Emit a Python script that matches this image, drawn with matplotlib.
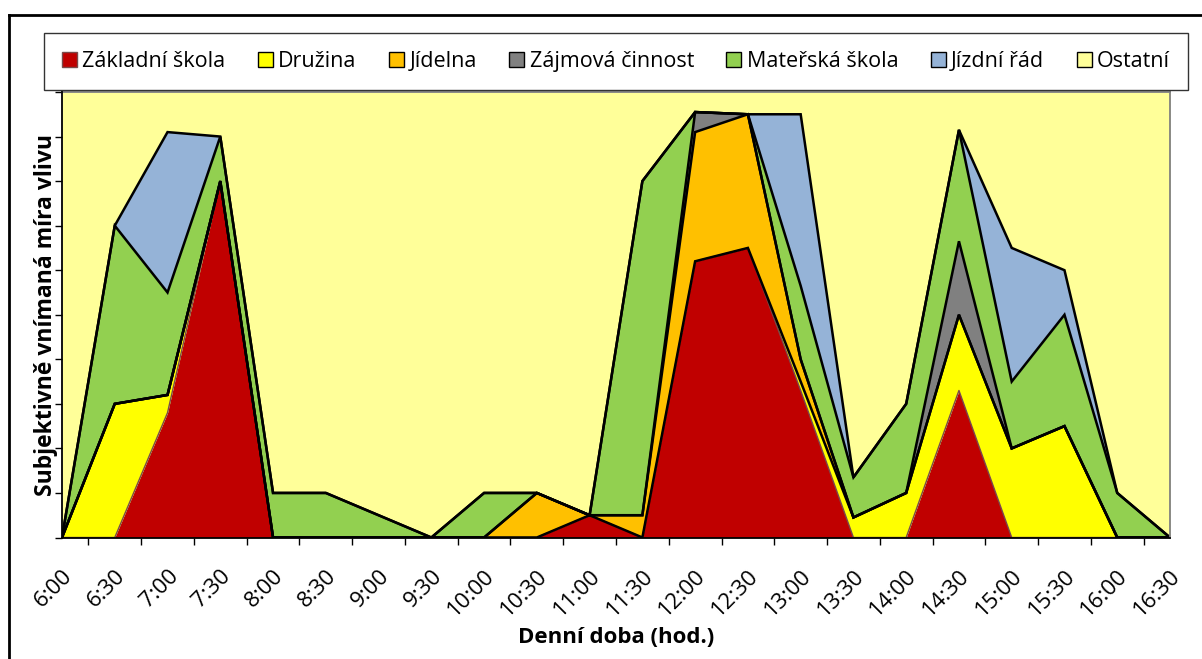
# stacked area chart: subjective influence over the day
import matplotlib.pyplot as plt
import numpy as np
from matplotlib.patches import Patch
from matplotlib.lines import Line2D

plt.rcParams['font.family'] = ['Open Sans', 'DejaVu Sans']

# categories on the x-axis
times = ['6:00', '6:30', '7:00', '7:30', '8:00', '8:30', '9:00', '9:30', '10:00', '10:30', '11:00',
         '11:30', '12:00', '12:30', '13:00', '13:30', '14:00', '14:30', '15:00', '15:30', '16:00', '16:30']

# series values, bottom to top
zakladni = [0, 0, 2.8, 8.0, 0, 0, 0, 0, 0, 0, 0.5, 0, 6.2, 6.5, 3.3, 0, 0, 3.3, 0, 0, 0, 0]
druzina = [0, 3.0, 0.4, 0, 0, 0, 0, 0, 0, 0, 0, 0, 0, 0, 0.2, 0.45, 1.0, 1.7, 2.0, 2.5, 0, 0]
jidelna = [0, 0, 0, 0, 0, 0, 0, 0, 0, 1.0, 0, 0.5, 2.9, 3.0, 0.5, 0, 0, 0, 0, 0, 0, 0]
zajmova = [0, 0, 0, 0, 0, 0, 0, 0, 0, 0, 0, 0, 0.45, 0, 0, 0, 0, 1.65, 0, 0, 0, 0]
materska = [0, 4.0, 2.3, 1.0, 1.0, 1.0, 0.5, 0, 1.0, 0, 0, 7.5, 0, 0, 1.65, 0.9, 2.0, 2.5, 1.5, 2.5, 1.0, 0]
jizdni = [0, 0, 3.6, 0, 0, 0, 0, 0, 0, 0, 0, 0, 0, 0, 3.85, 0, 0, 0, 3.0, 1.0, 0, 0]

names = ['Základní škola', 'Družina', 'Jídelna', 'Zájmová činnost', 'Mateřská škola', 'Jízdní řád', 'Ostatní']
colors = ['#C00000', '#FFFF00', '#FFC000', '#808080', '#92D050', '#95B3D7', '#FFFF99']

series = [zakladni, druzina, jidelna, zajmova, materska, jizdni]
total = 10
ostatni = total - np.sum(series, axis=0)
series.append(ostatni)

fig = plt.figure(figsize=(12.02, 6.59), dpi=100)
ax = fig.add_axes([62 / 1202, 1 - 537.5 / 659, (1170 - 62) / 1202, (537.5 - 92) / 659])

x = np.arange(len(times))
bottom = np.zeros(len(times))
tops = []
for vals, c in zip(series, colors):
    top = bottom + np.array(vals)
    ax.fill_between(x, bottom, top, color=c, linewidth=0)
    tops.append(top)
    bottom = top

# outlines of the series (red has its own thin edge)
ax.plot(x, tops[0], color='#7a4a4a', lw=1.0)
for top in tops[1:6]:
    ax.plot(x, top, color='black', lw=1.8, solid_joinstyle='miter')

ax.set_xlim(0, len(times) - 1)
ax.set_ylim(0, total)
ax.set_xticks(x)
ax.set_xticklabels(times, rotation=45, ha='right', va='top', rotation_mode='anchor', fontsize=16)
ax.set_xticks(x[:-1] + 0.5, minor=True)
ax.tick_params(axis='x', which='major', length=0, pad=20)
ax.tick_params(axis='x', which='minor', length=5, width=1, direction='out')
ax.set_yticks(np.arange(0, total + 1, 1))
ax.tick_params(axis='y', length=5, width=1, direction='out', labelleft=False)

for s in ['left', 'bottom']:
    ax.spines[s].set_color('black')
    ax.spines[s].set_linewidth(1.3)
    ax.spines[s].set_zorder(5)
for s in ['top', 'right']:
    ax.spines[s].set_color('#808080')
    ax.spines[s].set_linewidth(1.3)

ax.set_xlabel('Denní doba (hod.)', fontsize=16, fontweight='bold')
ax.xaxis.set_label_coords(0.5, -0.2)
ax.set_ylabel('Subjektivně vnímaná míra vlivu', fontsize=16.5, fontweight='bold')
ax.yaxis.set_label_coords(-0.004, 0.5)

# legend across the top
handles = [Patch(facecolor=c, edgecolor='black' if c != '#C00000' else '#7a4a4a', linewidth=1.0)
           for c in colors]
leg = fig.legend(handles, names, ncol=7, loc='center', bbox_to_anchor=(616 / 1202, 1 - 61.5 / 659),
                 fontsize=15.5, frameon=True, fancybox=False, edgecolor='black',
                 handlelength=0.7, handleheight=0.7, handletextpad=0.25, columnspacing=1.5,
                 borderpad=0.85)
leg.get_frame().set_linewidth(1.0)

# outer chart frame (cut off at right and bottom)
fig.add_artist(Line2D([8.5 / 1202, 1], [1 - 15 / 659, 1 - 15 / 659], color='black', lw=2,
                      transform=fig.transFigure))
fig.add_artist(Line2D([8.5 / 1202, 8.5 / 1202], [0, 1 - 15 / 659], color='black', lw=2,
                      transform=fig.transFigure))

plt.savefig('out.png', dpi=100)
